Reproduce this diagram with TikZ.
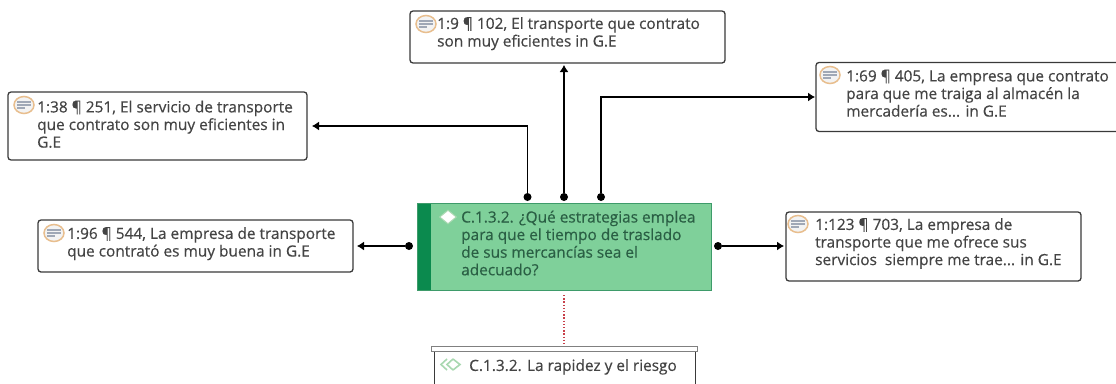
\documentclass[tikz,border=0pt]{standalone}
\usepackage{fontspec}
\setmainfont[FakeBold=0.4]{Open Sans}
\usetikzlibrary{arrows.meta,shapes.geometric}
\definecolor{boxline}{HTML}{3A3A3A}
\definecolor{txtgray}{HTML}{444444}
\definecolor{greenfill}{HTML}{7FD09A}
\definecolor{greendark}{HTML}{0B8A4E}
\definecolor{greenedge}{HTML}{3E9B6A}
\definecolor{greentext}{HTML}{2A5F44}
\definecolor{iconring}{HTML}{E8BE8E}
\definecolor{iconfill}{HTML}{F3F3F3}
\definecolor{iconbar}{HTML}{A0A8B6}
\definecolor{chev}{HTML}{A8D8B0}
\definecolor{dotred}{HTML}{C8404A}
\tikzset{
 x=1pt,y=-1pt,
 quotebox/.style={draw=boxline,line width=1.3pt,rounded corners=3pt,fill=white,inner sep=0pt},
 quotetext/.style={anchor=north west,inner sep=0pt,align=left,font=\fontsize{15.4pt}{17.6pt}\selectfont,text=txtgray},
 link/.style={draw=black,line width=1.1pt,-{Latex[length=7pt,width=9pt]}},
 stub/.style={circle,fill=black,inner sep=0pt,minimum size=8pt},
}
\newcommand{\quoteicon}[2]{%
 \draw[iconring,fill=iconfill,line width=1.5pt] (#1,#2) ellipse (10pt and 8.5pt);
 \foreach \dy/\w in {-3/7,0/7,3/4}{\draw[iconbar,line width=1.8pt] (#1-7,#2+\dy) -- (#1-7+2*\w,#2+\dy);}
}
\begin{document}
\begin{tikzpicture}
\useasboundingbox (0,0) rectangle (1116,383);
% boxes
\node[quotebox,minimum width=315pt,minimum height=52pt] (top) at (567.5,37) {};
\node[quotebox,minimum width=299pt,minimum height=68pt] (left) at (157.5,126) {};
\node[quotebox,minimum width=304pt,minimum height=69pt] (right) at (968,97) {};
\node[quotebox,minimum width=315pt,minimum height=52pt] (lowleft) at (195.5,246) {};
\node[quotebox,minimum width=295pt,minimum height=69pt] (lowright) at (933.5,246.5) {};
% central
\node[draw=greenedge,fill=greenfill,line width=1pt,minimum width=294pt,minimum height=87pt,inner sep=0pt] (main) at (564,246.5) {};
\fill[greendark] (417.5,203.5) rectangle (431,289.5);
% stubs
\node[stub] (s1) at (527.5,197) {};
\node[stub] (s2) at (564,197) {};
\node[stub] (s3) at (601,197) {};
\node[stub] (s4) at (409,246) {};
\node[stub] (s5) at (718,246) {};
\coordinate (leftin) at (312,126);
\coordinate (rightin) at (815,97);
\coordinate (topin) at (564,65);
\coordinate (lowleftin) at (357,246);
\coordinate (lowrightin) at (784,246);
\draw[link] (s1) |- (leftin);
\draw[link] (s2) -- (topin);
\draw[link] (s3) |- (rightin);
\draw[link] (s4) -- (lowleftin);
\draw[link] (s5) -- (lowrightin);
% bottom group
\node[draw=boxline,line width=1pt,fill=white,minimum width=261pt,minimum height=40pt,inner sep=0pt] (code) at (564.5,371) {};
\node[draw=gray,fill=white,line width=.8pt,minimum width=266pt,minimum height=5pt,inner sep=0pt] (codebar) at (564.5,348.5) {};
\draw[dotred,line width=1.1pt,dash pattern=on 1.4pt off 1.8pt] (main.south |- 0,295) coordinate (d1) -- (main.south |- codebar.north);
% icons
\quoteicon{24}{105}
\quoteicon{54}{233}
\quoteicon{426}{24}
\quoteicon{830}{75}
\quoteicon{798}{224}
\node[diamond,fill=white,draw=chev,line width=1pt,minimum width=17pt,minimum height=14pt,inner sep=0pt] (dia) at (448,217) {};
\draw[chev,line width=1.6pt] (447,359) -- (441,364.5) -- (447,370) (453,359) -- (447,364.5) -- (453,370) (453,359) -- (460,364.5) -- (453,370);
% texts
\node[quotetext] (t1) at (437,17) {1:9 ¶ 102, El transporte que contrato\\son muy eficientes in G.E};
\node[quotetext] (t2) at (37,100.5) {1:38 ¶ 251, El servicio de transporte\\que contrato son muy eficientes in\\G.E};
\node[quotetext] (t3) at (846,69.5) {1:69 ¶ 405, La empresa que contrato\\para que me traiga al almacén la\\mercadería es... in G.E};
\node[quotetext] (t4) at (67,227) {1:96 ¶ 544, La empresa de transporte\\que contrató es muy buena in G.E};
\node[quotetext] (t5) at (815,218) {1:123 ¶ 703, La empresa de\\transporte que me ofrece sus\\servicios\ \ siempre me trae... in G.E};
\node[quotetext,text=greentext] (t6) at (461,210.5) {C.1.3.2. ¿Qué estrategias emplea\\para que el tiempo de traslado\\de sus mercancías sea el\\adecuado?};
\node[quotetext] (t7) at (469,359) {C.1.3.2. La rapidez y el riesgo};
\end{tikzpicture}
\end{document}
